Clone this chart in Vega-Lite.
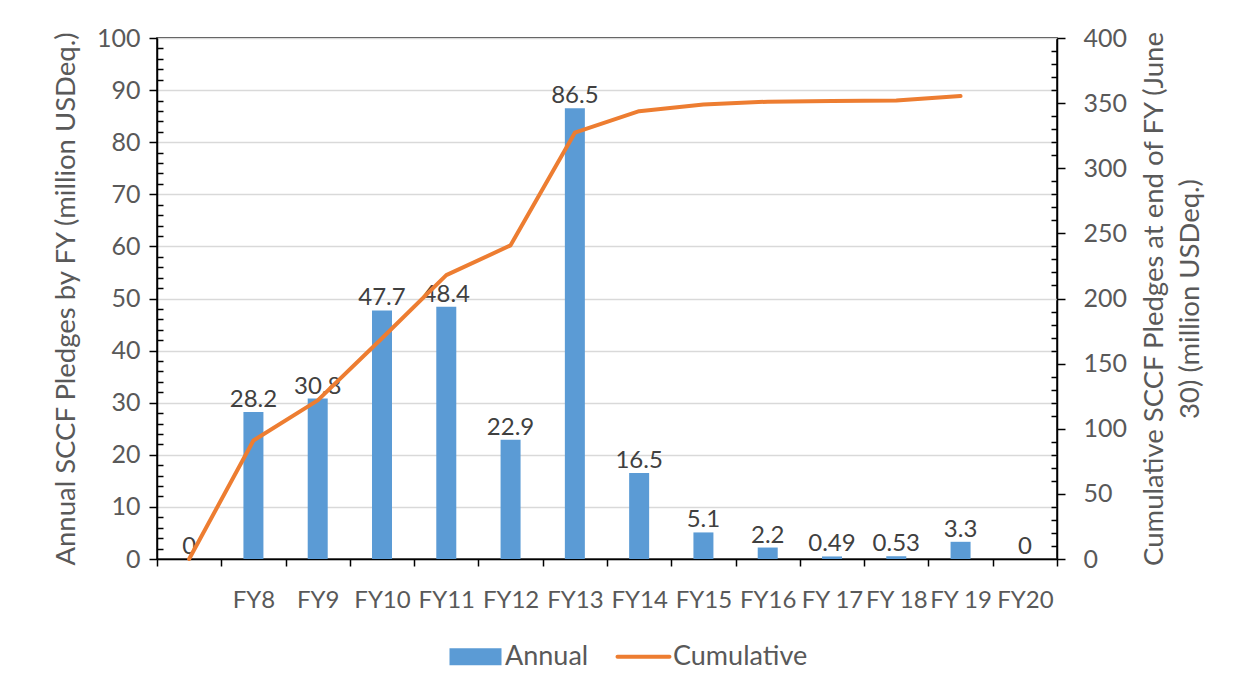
{
  "$schema": "https://vega.github.io/schema/vega-lite/v6.json",
  "width": 900,
  "height": 521,
  "autosize": {"type": "none"},
  "padding": {"left": 157, "top": 38, "right": 181, "bottom": 133},
  "background": "white",
  "config": {
    "font": "Lato",
    "view": {"stroke": "#000000", "strokeWidth": 1.5},
    "axis": {
      "labelFont": "Lato",
      "titleFont": "Lato",
      "labelColor": "#595959",
      "titleColor": "#595959",
      "labelFontSize": 25,
      "titleFontSize": 27.5,
      "titleFontWeight": "normal",
      "domainColor": "#000000",
      "domainWidth": 1.5,
      "tickColor": "#000000",
      "tickWidth": 1.5,
      "labelOverlap": false,
      "labelBound": false
    }
  },
  "data": {
    "values": [
      {"fy": " ", "annual": 0, "cumulative": 0},
      {"fy": "FY8", "annual": 28.2, "cumulative": 91},
      {"fy": "FY9", "annual": 30.8, "cumulative": 121.8},
      {"fy": "FY10", "annual": 47.7, "cumulative": 169.5},
      {"fy": "FY11", "annual": 48.4, "cumulative": 217.9},
      {"fy": "FY12", "annual": 22.9, "cumulative": 240.8},
      {"fy": "FY13", "annual": 86.5, "cumulative": 327.3},
      {"fy": "FY14", "annual": 16.5, "cumulative": 343.8},
      {"fy": "FY15", "annual": 5.1, "cumulative": 348.9},
      {"fy": "FY16", "annual": 2.2, "cumulative": 351.1},
      {"fy": "FY 17", "annual": 0.49, "cumulative": 351.6},
      {"fy": "FY 18", "annual": 0.53, "cumulative": 352.1},
      {"fy": "FY 19", "annual": 3.3, "cumulative": 355.4},
      {"fy": "FY20", "annual": 0, "cumulative": null}
    ]
  },
  "encoding": {
    "x": {
      "field": "fy",
      "type": "nominal",
      "sort": null,
      "scale": {"paddingInner": 0, "paddingOuter": 0},
      "axis": {
        "title": null,
        "labelAngle": 0,
        "labelFontSize": 24,
        "tickBand": "extent",
        "tickSize": 7,
        "labelPadding": 22,
        "grid": false
      }
    }
  },
  "layer": [
    {
      "encoding": {
        "y": {
          "field": "annual",
          "type": "quantitative",
          "scale": {"domain": [0, 100], "nice": false},
          "axis": {
            "title": "Annual SCCF Pledges by FY (million USDeq.)",
            "titlePadding": 16,
            "values": [0,2,4,6,8,10,12,14,16,18,20,22,24,26,28,30,32,34,36,38,40,42,44,46,48,50,52,54,56,58,60,62,64,66,68,70,72,74,76,78,80,82,84,86,88,90,92,94,96,98,100],
            "labelExpr": "datum.value % 10 === 0 ? datum.label : ''",
            "tickSize": {"condition": {"test": "datum.value % 10 === 0", "value": 8}, "value": -6},
            "labelPadding": 9,
            "grid": true,
            "gridColor": "#d9d9d9",
            "gridWidth": 1.5,
            "gridOpacity": {"condition": {"test": "datum.value % 10 === 0", "value": 1}, "value": 0}
          }
        }
      },
      "layer": [
        {
          "mark": {"type": "bar", "width": 20},
          "encoding": {
            "color": {
              "datum": "Annual",
              "type": "nominal",
              "scale": {"domain": ["Annual", "Cumulative"], "range": ["#5B9BD5", "#ED7D31"]},
              "legend": {
                "title": null,
                "orient": "none",
                "direction": "horizontal",
                "legendX": 305,
                "legendY": 605,
                "symbolSize": 2704,
                "labelFont": "Lato",
                "labelFontSize": 27,
                "labelColor": "#595959",
                "labelOffset": 16,
                "columnPadding": 20,
                "symbolOpacity": 1,
                "encode": {
                  "symbols": {
                    "update": {
                      "shape": {"signal": "datum.label === 'Annual' ? 'M-1,-0.33H1V0.33H-1Z' : 'M-1,0H1'"},
                      "fill": {"signal": "datum.label === 'Annual' ? '#5B9BD5' : 'transparent'"},
                      "stroke": {"signal": "datum.label === 'Annual' ? 'transparent' : '#ED7D31'"},
                      "strokeWidth": {"signal": "datum.label === 'Annual' ? 0 : 4"},
                      "strokeCap": {"value": "round"},
                      "opacity": {"value": 1}
                    }
                  }
                }
              }
            }
          }
        },
        {
          "mark": {"type": "text", "fontSize": 24, "font": "Lato", "color": "#404040", "baseline": "middle", "dy": -12},
          "encoding": {
            "text": {"field": "annual", "type": "nominal"}
          }
        }
      ]
    },
    {
      "mark": {"type": "line", "strokeWidth": 4, "strokeJoin": "round", "strokeCap": "round"},
      "encoding": {
        "y": {
          "field": "cumulative",
          "type": "quantitative",
          "scale": {"domain": [0, 400], "nice": false},
          "axis": {
            "orient": "right",
            "title": ["Cumulative SCCF Pledges at end of FY (June", "30) (million USDeq.)"],
            "titleAngle": -90,
            "titlePadding": 6,
            "titleLineHeight": 36,
            "values": [0,10,20,30,40,50,60,70,80,90,100,110,120,130,140,150,160,170,180,190,200,210,220,230,240,250,260,270,280,290,300,310,320,330,340,350,360,370,380,390,400],
            "labelExpr": "datum.value % 50 === 0 ? datum.label : ''",
            "tickSize": {"condition": {"test": "datum.value % 50 === 0", "value": 8}, "value": -6},
            "labelPadding": 18,
            "grid": false
          }
        },
        "color": {"datum": "Cumulative", "type": "nominal"}
      }
    }
  ],
  "resolve": {"scale": {"y": "independent"}}
}
